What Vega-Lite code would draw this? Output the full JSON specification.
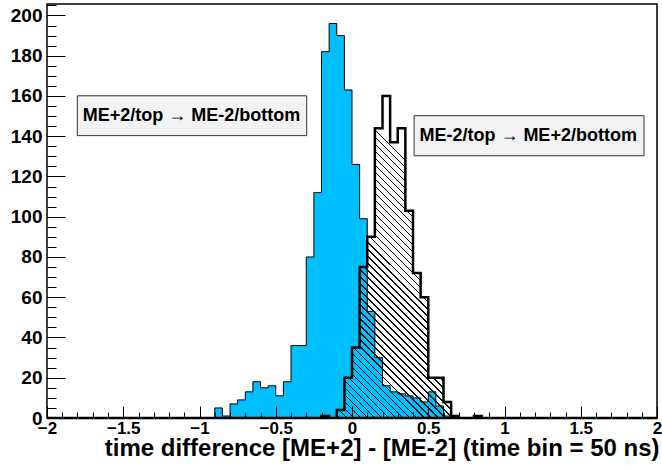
{
  "$schema": "https://vega.github.io/schema/vega-lite/v6.json",
  "width": 610,
  "height": 414,
  "autosize": {"type": "none"},
  "padding": {"left": 47, "top": 4, "right": 5, "bottom": 52},
  "background": "white",
  "config": {
    "view": {"stroke": "black", "strokeWidth": 1.5},
    "axis": {"domain": false, "grid": false, "labelFont": "Liberation Sans", "labelFontWeight": "bold", "labelColor": "black", "tickColor": "black", "tickWidth": 1, "titleFont": "Liberation Sans", "titleColor": "black"}
  },
  "datasets": {
    "hist": [
      {"lo": -2, "n1": 0, "n2": 0}, {"lo": -1.95, "n1": 0, "n2": 0}, {"lo": -1.9, "n1": 0, "n2": 0}, {"lo": -1.85, "n1": 0, "n2": 0},
      {"lo": -1.8, "n1": 0, "n2": 0}, {"lo": -1.75, "n1": 0, "n2": 0}, {"lo": -1.7, "n1": 0, "n2": 0}, {"lo": -1.65, "n1": 0, "n2": 0},
      {"lo": -1.6, "n1": 0, "n2": 0}, {"lo": -1.55, "n1": 0, "n2": 0}, {"lo": -1.5, "n1": 0, "n2": 0}, {"lo": -1.45, "n1": 0, "n2": 0},
      {"lo": -1.4, "n1": 0, "n2": 0}, {"lo": -1.35, "n1": 0, "n2": 0}, {"lo": -1.3, "n1": 0, "n2": 0}, {"lo": -1.25, "n1": 0, "n2": 0},
      {"lo": -1.2, "n1": 0, "n2": 0}, {"lo": -1.15, "n1": 0, "n2": 0}, {"lo": -1.1, "n1": 0, "n2": 0}, {"lo": -1.05, "n1": 0, "n2": 0},
      {"lo": -1, "n1": 0, "n2": 0}, {"lo": -0.95, "n1": 0, "n2": 0},
      {"lo": -0.9, "n1": 5, "n2": 0}, {"lo": -0.85, "n1": 1, "n2": 0}, {"lo": -0.8, "n1": 7, "n2": 0}, {"lo": -0.75, "n1": 9, "n2": 0},
      {"lo": -0.7, "n1": 13, "n2": 0}, {"lo": -0.65, "n1": 18, "n2": 0}, {"lo": -0.6, "n1": 15, "n2": 0}, {"lo": -0.55, "n1": 16, "n2": 0},
      {"lo": -0.5, "n1": 11, "n2": 0}, {"lo": -0.45, "n1": 18, "n2": 0}, {"lo": -0.4, "n1": 36, "n2": 0}, {"lo": -0.35, "n1": 36, "n2": 0},
      {"lo": -0.3, "n1": 80, "n2": 0}, {"lo": -0.25, "n1": 112, "n2": 0}, {"lo": -0.2, "n1": 182, "n2": 1}, {"lo": -0.15, "n1": 196, "n2": 0},
      {"lo": -0.1, "n1": 190, "n2": 4}, {"lo": -0.05, "n1": 163, "n2": 20}, {"lo": 0, "n1": 126, "n2": 35}, {"lo": 0.05, "n1": 99, "n2": 75},
      {"lo": 0.1, "n1": 53, "n2": 90}, {"lo": 0.15, "n1": 30, "n2": 144}, {"lo": 0.2, "n1": 16, "n2": 160}, {"lo": 0.25, "n1": 13, "n2": 137},
      {"lo": 0.3, "n1": 12, "n2": 144}, {"lo": 0.35, "n1": 11, "n2": 103}, {"lo": 0.4, "n1": 10, "n2": 72}, {"lo": 0.45, "n1": 8, "n2": 60},
      {"lo": 0.5, "n1": 13, "n2": 20}, {"lo": 0.55, "n1": 6, "n2": 20}, {"lo": 0.6, "n1": 1, "n2": 8}, {"lo": 0.65, "n1": 0, "n2": 1},
      {"lo": 0.7, "n1": 0, "n2": 0}, {"lo": 0.75, "n1": 0, "n2": 0}, {"lo": 0.8, "n1": 0, "n2": 1}, {"lo": 0.85, "n1": 0, "n2": 0},
      {"lo": 0.9, "n1": 0, "n2": 0}, {"lo": 0.95, "n1": 0, "n2": 0}, {"lo": 1, "n1": 0, "n2": 0}, {"lo": 1.05, "n1": 0, "n2": 0},
      {"lo": 1.1, "n1": 0, "n2": 0}, {"lo": 1.15, "n1": 0, "n2": 0}, {"lo": 1.2, "n1": 0, "n2": 0}, {"lo": 1.25, "n1": 0, "n2": 0},
      {"lo": 1.3, "n1": 0, "n2": 0}, {"lo": 1.35, "n1": 0, "n2": 0}, {"lo": 1.4, "n1": 0, "n2": 0}, {"lo": 1.45, "n1": 0, "n2": 0},
      {"lo": 1.5, "n1": 0, "n2": 0}, {"lo": 1.55, "n1": 0, "n2": 0}, {"lo": 1.6, "n1": 0, "n2": 0}, {"lo": 1.65, "n1": 0, "n2": 0},
      {"lo": 1.7, "n1": 0, "n2": 0}, {"lo": 1.75, "n1": 0, "n2": 0}, {"lo": 1.8, "n1": 0, "n2": 0}, {"lo": 1.85, "n1": 0, "n2": 0},
      {"lo": 1.9, "n1": 0, "n2": 0}, {"lo": 1.95, "n1": 0, "n2": 0}, {"lo": 2, "n1": 0, "n2": 0}
    ],
    "boxes": [
      {"x1": -1.801, "x2": -0.297, "y1": 140.3, "y2": 160.1, "xc": -1.052, "yc": 150.2, "label": "ME+2/top → ME-2/bottom"},
      {"x1": 0.407, "x2": 1.915, "y1": 130.3, "y2": 150.2, "xc": 1.155, "yc": 140.25, "label": "ME-2/top → ME+2/bottom"}
    ]
  },
  "resolve": {"axis": {"x": "independent", "y": "independent"}},
  "layer": [
    {
      "data": {"name": "hist"},
      "mark": {"type": "area", "interpolate": "step-after", "fill": "#00bfff", "stroke": "black", "strokeWidth": 1},
      "encoding": {
        "x": {"field": "lo", "type": "quantitative", "scale": {"domain": [-2, 2], "nice": false, "zero": false},
              "axis": {"orient": "bottom", "values": [-2, -1.5, -1, -0.5, 0, 0.5, 1, 1.5, 2], "format": "~g", "ticks": false, "labelFontSize": 17, "labelFontWeight": "bold", "labelColor": "black", "labelPadding": 2, "labelFlush": false,
                       "encode": {"labels": {"update": {"fontWeight": {"value": "bold"}}}},
                       "title": "time difference [ME+2] - [ME-2] (time bin = 50 ns)", "titleFontSize": 24, "titleFontWeight": "bold", "titleAnchor": "end", "titleAlign": "right", "titleBaseline": "alphabetic", "titleY": 37, "titleX": 612}},
        "y": {"field": "n1", "type": "quantitative", "scale": {"domain": [0, 205.7], "nice": false},
              "axis": {"orient": "left", "values": [0, 20, 40, 60, 80, 100, 120, 140, 160, 180, 200], "ticks": false, "labelFontSize": 19, "labelFontWeight": "bold", "labelColor": "black", "labelPadding": 5, "title": null}}
      }
    },
    {
      "data": {"name": "hist"},
      "mark": {"type": "area", "interpolate": "step-after", "stroke": "black", "strokeWidth": 2.5,
        "fill": {"gradient": "linear", "x1": 0, "y1": 0.528, "x2": 1, "y2": 0, "stops": [
          {"offset":0,"color":"rgba(0,0,0,0)"},{"offset":0,"color":"black"},{"offset":0.0017,"color":"black"},{"offset":0.0017,"color":"rgba(0,0,0,0)"},
          {"offset":0.009,"color":"rgba(0,0,0,0)"},{"offset":0.009,"color":"black"},{"offset":0.0107,"color":"black"},{"offset":0.0107,"color":"rgba(0,0,0,0)"},
          {"offset":0.018,"color":"rgba(0,0,0,0)"},{"offset":0.018,"color":"black"},{"offset":0.0197,"color":"black"},{"offset":0.0197,"color":"rgba(0,0,0,0)"},
          {"offset":0.027,"color":"rgba(0,0,0,0)"},{"offset":0.027,"color":"black"},{"offset":0.0287,"color":"black"},{"offset":0.0287,"color":"rgba(0,0,0,0)"},
          {"offset":0.036,"color":"rgba(0,0,0,0)"},{"offset":0.036,"color":"black"},{"offset":0.0377,"color":"black"},{"offset":0.0377,"color":"rgba(0,0,0,0)"},
          {"offset":0.045,"color":"rgba(0,0,0,0)"},{"offset":0.045,"color":"black"},{"offset":0.0467,"color":"black"},{"offset":0.0467,"color":"rgba(0,0,0,0)"},
          {"offset":0.054,"color":"rgba(0,0,0,0)"},{"offset":0.054,"color":"black"},{"offset":0.0557,"color":"black"},{"offset":0.0557,"color":"rgba(0,0,0,0)"},
          {"offset":0.063,"color":"rgba(0,0,0,0)"},{"offset":0.063,"color":"black"},{"offset":0.0647,"color":"black"},{"offset":0.0647,"color":"rgba(0,0,0,0)"},
          {"offset":0.072,"color":"rgba(0,0,0,0)"},{"offset":0.072,"color":"black"},{"offset":0.0737,"color":"black"},{"offset":0.0737,"color":"rgba(0,0,0,0)"},
          {"offset":0.081,"color":"rgba(0,0,0,0)"},{"offset":0.081,"color":"black"},{"offset":0.0827,"color":"black"},{"offset":0.0827,"color":"rgba(0,0,0,0)"},
          {"offset":0.09,"color":"rgba(0,0,0,0)"},{"offset":0.09,"color":"black"},{"offset":0.0917,"color":"black"},{"offset":0.0917,"color":"rgba(0,0,0,0)"},
          {"offset":0.099,"color":"rgba(0,0,0,0)"},{"offset":0.099,"color":"black"},{"offset":0.1007,"color":"black"},{"offset":0.1007,"color":"rgba(0,0,0,0)"},
          {"offset":0.108,"color":"rgba(0,0,0,0)"},{"offset":0.108,"color":"black"},{"offset":0.1097,"color":"black"},{"offset":0.1097,"color":"rgba(0,0,0,0)"},
          {"offset":0.117,"color":"rgba(0,0,0,0)"},{"offset":0.117,"color":"black"},{"offset":0.1187,"color":"black"},{"offset":0.1187,"color":"rgba(0,0,0,0)"},
          {"offset":0.126,"color":"rgba(0,0,0,0)"},{"offset":0.126,"color":"black"},{"offset":0.1277,"color":"black"},{"offset":0.1277,"color":"rgba(0,0,0,0)"},
          {"offset":0.135,"color":"rgba(0,0,0,0)"},{"offset":0.135,"color":"black"},{"offset":0.1367,"color":"black"},{"offset":0.1367,"color":"rgba(0,0,0,0)"},
          {"offset":0.144,"color":"rgba(0,0,0,0)"},{"offset":0.144,"color":"black"},{"offset":0.1457,"color":"black"},{"offset":0.1457,"color":"rgba(0,0,0,0)"},
          {"offset":0.153,"color":"rgba(0,0,0,0)"},{"offset":0.153,"color":"black"},{"offset":0.1547,"color":"black"},{"offset":0.1547,"color":"rgba(0,0,0,0)"},
          {"offset":0.162,"color":"rgba(0,0,0,0)"},{"offset":0.162,"color":"black"},{"offset":0.1637,"color":"black"},{"offset":0.1637,"color":"rgba(0,0,0,0)"},
          {"offset":0.171,"color":"rgba(0,0,0,0)"},{"offset":0.171,"color":"black"},{"offset":0.1727,"color":"black"},{"offset":0.1727,"color":"rgba(0,0,0,0)"},
          {"offset":0.18,"color":"rgba(0,0,0,0)"},{"offset":0.18,"color":"black"},{"offset":0.1817,"color":"black"},{"offset":0.1817,"color":"rgba(0,0,0,0)"},
          {"offset":0.189,"color":"rgba(0,0,0,0)"},{"offset":0.189,"color":"black"},{"offset":0.1907,"color":"black"},{"offset":0.1907,"color":"rgba(0,0,0,0)"},
          {"offset":0.198,"color":"rgba(0,0,0,0)"},{"offset":0.198,"color":"black"},{"offset":0.1997,"color":"black"},{"offset":0.1997,"color":"rgba(0,0,0,0)"},
          {"offset":0.207,"color":"rgba(0,0,0,0)"},{"offset":0.207,"color":"black"},{"offset":0.2087,"color":"black"},{"offset":0.2087,"color":"rgba(0,0,0,0)"},
          {"offset":0.216,"color":"rgba(0,0,0,0)"},{"offset":0.216,"color":"black"},{"offset":0.2177,"color":"black"},{"offset":0.2177,"color":"rgba(0,0,0,0)"},
          {"offset":0.225,"color":"rgba(0,0,0,0)"},{"offset":0.225,"color":"black"},{"offset":0.2267,"color":"black"},{"offset":0.2267,"color":"rgba(0,0,0,0)"},
          {"offset":0.234,"color":"rgba(0,0,0,0)"},{"offset":0.234,"color":"black"},{"offset":0.2357,"color":"black"},{"offset":0.2357,"color":"rgba(0,0,0,0)"},
          {"offset":0.243,"color":"rgba(0,0,0,0)"},{"offset":0.243,"color":"black"},{"offset":0.2447,"color":"black"},{"offset":0.2447,"color":"rgba(0,0,0,0)"},
          {"offset":0.252,"color":"rgba(0,0,0,0)"},{"offset":0.252,"color":"black"},{"offset":0.2537,"color":"black"},{"offset":0.2537,"color":"rgba(0,0,0,0)"},
          {"offset":0.261,"color":"rgba(0,0,0,0)"},{"offset":0.261,"color":"black"},{"offset":0.2627,"color":"black"},{"offset":0.2627,"color":"rgba(0,0,0,0)"},
          {"offset":0.27,"color":"rgba(0,0,0,0)"},{"offset":0.27,"color":"black"},{"offset":0.2717,"color":"black"},{"offset":0.2717,"color":"rgba(0,0,0,0)"},
          {"offset":0.279,"color":"rgba(0,0,0,0)"},{"offset":0.279,"color":"black"},{"offset":0.2807,"color":"black"},{"offset":0.2807,"color":"rgba(0,0,0,0)"},
          {"offset":0.288,"color":"rgba(0,0,0,0)"},{"offset":0.288,"color":"black"},{"offset":0.2897,"color":"black"},{"offset":0.2897,"color":"rgba(0,0,0,0)"},
          {"offset":0.297,"color":"rgba(0,0,0,0)"},{"offset":0.297,"color":"black"},{"offset":0.2987,"color":"black"},{"offset":0.2987,"color":"rgba(0,0,0,0)"},
          {"offset":0.306,"color":"rgba(0,0,0,0)"},{"offset":0.306,"color":"black"},{"offset":0.3077,"color":"black"},{"offset":0.3077,"color":"rgba(0,0,0,0)"},
          {"offset":0.315,"color":"rgba(0,0,0,0)"},{"offset":0.315,"color":"black"},{"offset":0.3167,"color":"black"},{"offset":0.3167,"color":"rgba(0,0,0,0)"},
          {"offset":0.324,"color":"rgba(0,0,0,0)"},{"offset":0.324,"color":"black"},{"offset":0.3257,"color":"black"},{"offset":0.3257,"color":"rgba(0,0,0,0)"},
          {"offset":0.333,"color":"rgba(0,0,0,0)"},{"offset":0.333,"color":"black"},{"offset":0.3347,"color":"black"},{"offset":0.3347,"color":"rgba(0,0,0,0)"},
          {"offset":0.342,"color":"rgba(0,0,0,0)"},{"offset":0.342,"color":"black"},{"offset":0.3437,"color":"black"},{"offset":0.3437,"color":"rgba(0,0,0,0)"},
          {"offset":0.351,"color":"rgba(0,0,0,0)"},{"offset":0.351,"color":"black"},{"offset":0.3527,"color":"black"},{"offset":0.3527,"color":"rgba(0,0,0,0)"},
          {"offset":0.36,"color":"rgba(0,0,0,0)"},{"offset":0.36,"color":"black"},{"offset":0.3617,"color":"black"},{"offset":0.3617,"color":"rgba(0,0,0,0)"},
          {"offset":0.369,"color":"rgba(0,0,0,0)"},{"offset":0.369,"color":"black"},{"offset":0.3707,"color":"black"},{"offset":0.3707,"color":"rgba(0,0,0,0)"},
          {"offset":0.378,"color":"rgba(0,0,0,0)"},{"offset":0.378,"color":"black"},{"offset":0.3797,"color":"black"},{"offset":0.3797,"color":"rgba(0,0,0,0)"},
          {"offset":0.387,"color":"rgba(0,0,0,0)"},{"offset":0.387,"color":"black"},{"offset":0.3887,"color":"black"},{"offset":0.3887,"color":"rgba(0,0,0,0)"},
          {"offset":0.396,"color":"rgba(0,0,0,0)"},{"offset":0.396,"color":"black"},{"offset":0.3977,"color":"black"},{"offset":0.3977,"color":"rgba(0,0,0,0)"},
          {"offset":0.405,"color":"rgba(0,0,0,0)"},{"offset":0.405,"color":"black"},{"offset":0.4067,"color":"black"},{"offset":0.4067,"color":"rgba(0,0,0,0)"},
          {"offset":0.414,"color":"rgba(0,0,0,0)"},{"offset":0.414,"color":"black"},{"offset":0.4157,"color":"black"},{"offset":0.4157,"color":"rgba(0,0,0,0)"},
          {"offset":0.423,"color":"rgba(0,0,0,0)"},{"offset":0.423,"color":"black"},{"offset":0.4247,"color":"black"},{"offset":0.4247,"color":"rgba(0,0,0,0)"},
          {"offset":0.432,"color":"rgba(0,0,0,0)"},{"offset":0.432,"color":"black"},{"offset":0.4337,"color":"black"},{"offset":0.4337,"color":"rgba(0,0,0,0)"},
          {"offset":0.441,"color":"rgba(0,0,0,0)"},{"offset":0.441,"color":"black"},{"offset":0.4427,"color":"black"},{"offset":0.4427,"color":"rgba(0,0,0,0)"},
          {"offset":0.45,"color":"rgba(0,0,0,0)"},{"offset":0.45,"color":"black"},{"offset":0.4517,"color":"black"},{"offset":0.4517,"color":"rgba(0,0,0,0)"},
          {"offset":0.459,"color":"rgba(0,0,0,0)"},{"offset":0.459,"color":"black"},{"offset":0.4607,"color":"black"},{"offset":0.4607,"color":"rgba(0,0,0,0)"},
          {"offset":0.468,"color":"rgba(0,0,0,0)"},{"offset":0.468,"color":"black"},{"offset":0.4697,"color":"black"},{"offset":0.4697,"color":"rgba(0,0,0,0)"},
          {"offset":0.477,"color":"rgba(0,0,0,0)"},{"offset":0.477,"color":"black"},{"offset":0.4787,"color":"black"},{"offset":0.4787,"color":"rgba(0,0,0,0)"},
          {"offset":0.486,"color":"rgba(0,0,0,0)"},{"offset":0.486,"color":"black"},{"offset":0.4877,"color":"black"},{"offset":0.4877,"color":"rgba(0,0,0,0)"},
          {"offset":0.495,"color":"rgba(0,0,0,0)"},{"offset":0.495,"color":"black"},{"offset":0.4967,"color":"black"},{"offset":0.4967,"color":"rgba(0,0,0,0)"},
          {"offset":0.504,"color":"rgba(0,0,0,0)"},{"offset":0.504,"color":"black"},{"offset":0.5057,"color":"black"},{"offset":0.5057,"color":"rgba(0,0,0,0)"},
          {"offset":0.513,"color":"rgba(0,0,0,0)"},{"offset":0.513,"color":"black"},{"offset":0.5147,"color":"black"},{"offset":0.5147,"color":"rgba(0,0,0,0)"},
          {"offset":0.522,"color":"rgba(0,0,0,0)"},{"offset":0.522,"color":"black"},{"offset":0.5237,"color":"black"},{"offset":0.5237,"color":"rgba(0,0,0,0)"},
          {"offset":0.531,"color":"rgba(0,0,0,0)"},{"offset":0.531,"color":"black"},{"offset":0.5327,"color":"black"},{"offset":0.5327,"color":"rgba(0,0,0,0)"},
          {"offset":0.54,"color":"rgba(0,0,0,0)"},{"offset":0.54,"color":"black"},{"offset":0.5417,"color":"black"},{"offset":0.5417,"color":"rgba(0,0,0,0)"},
          {"offset":0.549,"color":"rgba(0,0,0,0)"},{"offset":0.549,"color":"black"},{"offset":0.5507,"color":"black"},{"offset":0.5507,"color":"rgba(0,0,0,0)"},
          {"offset":0.558,"color":"rgba(0,0,0,0)"},{"offset":0.558,"color":"black"},{"offset":0.5597,"color":"black"},{"offset":0.5597,"color":"rgba(0,0,0,0)"},
          {"offset":0.567,"color":"rgba(0,0,0,0)"},{"offset":0.567,"color":"black"},{"offset":0.5687,"color":"black"},{"offset":0.5687,"color":"rgba(0,0,0,0)"},
          {"offset":0.576,"color":"rgba(0,0,0,0)"},{"offset":0.576,"color":"black"},{"offset":0.5777,"color":"black"},{"offset":0.5777,"color":"rgba(0,0,0,0)"},
          {"offset":0.585,"color":"rgba(0,0,0,0)"},{"offset":0.585,"color":"black"},{"offset":0.5867,"color":"black"},{"offset":0.5867,"color":"rgba(0,0,0,0)"},
          {"offset":0.594,"color":"rgba(0,0,0,0)"},{"offset":0.594,"color":"black"},{"offset":0.5957,"color":"black"},{"offset":0.5957,"color":"rgba(0,0,0,0)"},
          {"offset":1,"color":"rgba(0,0,0,0)"}
        ]}},
      "encoding": {
        "x": {"field": "lo", "type": "quantitative", "scale": {"domain": [-2, 2], "nice": false, "zero": false},
              "axis": {"orient": "bottom", "values": [-2, -1.5, -1, -0.5, 0, 0.5, 1, 1.5, 2], "labels": false, "tickSize": -12, "title": null, "zindex": 2}},
        "y": {"field": "n2", "type": "quantitative", "scale": {"domain": [0, 205.7], "nice": false},
              "axis": {"orient": "left", "values": [0, 20, 40, 60, 80, 100, 120, 140, 160, 180, 200], "labels": false, "tickSize": -18, "title": null, "zindex": 2}}
      }
    },
    {
      "data": {"name": "boxes"},
      "mark": {"type": "rect", "fill": "#f2f2f2", "stroke": "#333333", "strokeWidth": 1},
      "encoding": {
        "x": {"field": "x1", "type": "quantitative", "scale": {"domain": [-2, 2], "nice": false, "zero": false},
              "axis": {"orient": "bottom", "values": [-2, -1.9, -1.8, -1.7, -1.6, -1.5, -1.4, -1.3, -1.2, -1.1, -1, -0.9, -0.8, -0.7, -0.6, -0.5, -0.4, -0.3, -0.2, -0.1, 0, 0.1, 0.2, 0.3, 0.4, 0.5, 0.6, 0.7, 0.8, 0.9, 1, 1.1, 1.2, 1.3, 1.4, 1.5, 1.6, 1.7, 1.8, 1.9, 2], "labels": false, "tickSize": -6, "title": null, "zindex": 2}},
        "x2": {"field": "x2"},
        "y": {"field": "y1", "type": "quantitative", "scale": {"domain": [0, 205.7], "nice": false},
              "axis": {"orient": "left", "values": [0, 5, 10, 15, 20, 25, 30, 35, 40, 45, 50, 55, 60, 65, 70, 75, 80, 85, 90, 95, 100, 105, 110, 115, 120, 125, 130, 135, 140, 145, 150, 155, 160, 165, 170, 175, 180, 185, 190, 195, 200, 205], "labels": false, "tickSize": -9, "title": null, "zindex": 2}},
        "y2": {"field": "y2"}
      }
    },
    {
      "data": {"name": "boxes"},
      "mark": {"type": "text", "font": "Liberation Sans", "fontWeight": "bold", "fontSize": 18, "color": "black", "align": "center", "baseline": "middle"},
      "encoding": {
        "x": {"field": "xc", "type": "quantitative", "axis": null},
        "y": {"field": "yc", "type": "quantitative", "axis": null},
        "text": {"field": "label"}
      }
    }
  ]
}
